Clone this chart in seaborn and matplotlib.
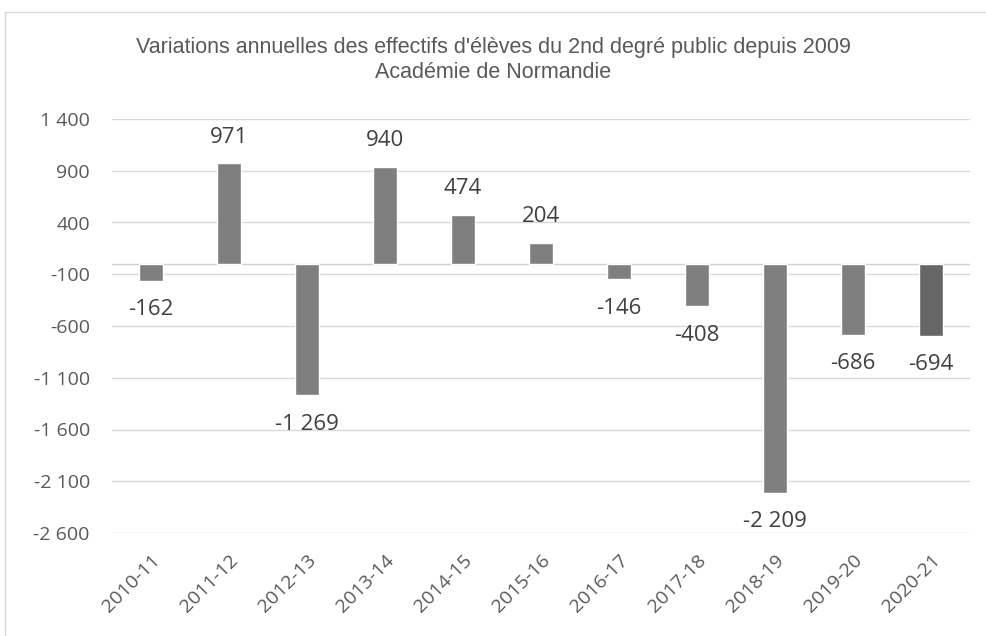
import matplotlib
matplotlib.use("Agg")
import matplotlib.pyplot as plt
import matplotlib.ticker as mticker
from matplotlib.patches import Rectangle
import seaborn as sns
import pandas as pd

# Data
annees = ["2010-11", "2011-12", "2012-13", "2013-14", "2014-15", "2015-16",
          "2016-17", "2017-18", "2018-19", "2019-20", "2020-21"]
variations = [-162, 971, -1269, 940, 474, 204, -146, -408, -2209, -686, -694]
couleurs = ["#7f7f7f"] * 10 + ["#666666"]
y_ticks = [1400, 900, 400, -100, -600, -1100, -1600, -2100, -2600]

df = pd.DataFrame({"annee": annees, "variation": variations})

sns.set_theme(style="white")
plt.rcParams['font.family'] = ['Open Sans', 'DejaVu Sans']


def fmt(v):
    return f"{v:,.0f}".replace(",", " ")


fig = plt.figure(figsize=(9.86, 6.36), dpi=100)
ax = fig.add_axes([112 / 986, 1 - 533 / 636, 858 / 986, 414 / 636])

# light outer frame
fig.patches.append(Rectangle((5 / 986, -0.1), 1.2, 1 - 12 / 636 + 0.1,
                             transform=fig.transFigure, fill=False,
                             edgecolor="#d9d9d9", linewidth=1))

sns.barplot(data=df, x="annee", y="variation", hue="annee", palette=couleurs,
            width=0.31, legend=False, saturation=1, ax=ax)

ax.set_ylim(-2600, 1400)
ax.set_xlim(-0.5, len(annees) - 0.5)
ax.set_yticks(y_ticks)
ax.yaxis.set_major_formatter(mticker.FuncFormatter(lambda v, p: fmt(v)))
ax.grid(axis="y", color="#d9d9d9", linewidth=1)
ax.set_axisbelow(True)
ax.axhline(0, color="#d0d0d0", linewidth=1, zorder=0.5)
for s in ax.spines.values():
    s.set_visible(False)
ax.tick_params(axis="y", length=0, pad=16, labelsize=14, labelcolor="#595959")
ax.tick_params(axis="x", length=0, pad=13, labelsize=14, labelcolor="#595959")
plt.setp(ax.get_xticklabels(), rotation=45, ha="right", rotation_mode="anchor")
ax.set_xlabel("")
ax.set_ylabel("")

for i, v in enumerate(variations):
    off = 18.7 if v > 0 else -20.9
    ax.annotate(fmt(v), (i, v), xytext=(0, off), textcoords="offset points",
                ha="center", va="center", fontsize=16, color="#404040")

fig.text(0.5, 1 - 47 / 636, "Variations annuelles des effectifs d'élèves du 2nd degré public depuis 2009",
         ha="center", va="center", fontsize=15.5, color="#595959", family="Liberation Sans")
fig.text(0.5, 1 - 72 / 636, "Académie de Normandie",
         ha="center", va="center", fontsize=15.5, color="#595959", family="Liberation Sans")

fig.savefig("out.png", dpi=100)
